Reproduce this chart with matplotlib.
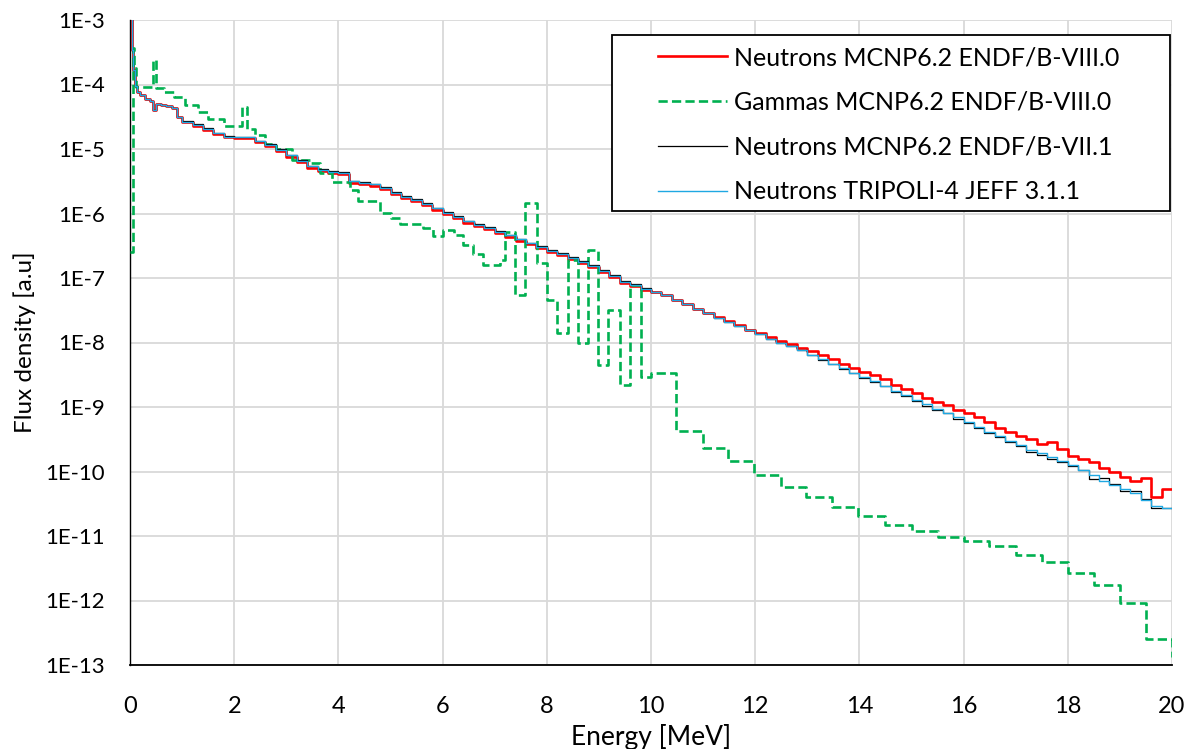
import numpy as np
import matplotlib
matplotlib.use("Agg")
import matplotlib.pyplot as plt
from matplotlib.patches import Rectangle
from matplotlib.ticker import NullLocator

plt.rcParams["font.family"] = ["Lato", "DejaVu Sans"]

# ---------------------------------------------------------------------------
# Data (flux density per energy bin, stored as log10 values)
# ---------------------------------------------------------------------------
# neutron bin edges [MeV]: fine bins below 1 MeV, then 0.2 MeV bins
N_EDGES_LOW = [0.0, 0.03, 0.06, 0.10, 0.13, 0.19, 0.28, 0.38, 0.45, 0.50,
               0.60, 0.70, 0.80, 0.90, 1.00]
N_EDGES_HIGH = np.round(np.arange(1.2, 20.001, 0.2), 2)

N_LOW = [-2.90, -3.47, -3.78, -4.03, -4.11, -4.16, -4.22, -4.25, -4.40,
         -4.31, -4.32, -4.34, -4.36, -4.50]

# MCNP6.2 ENDF/B-VIII.0 neutrons
N_VIII = N_LOW + [
    -4.58, -4.64, -4.70, -4.76, -4.82, -4.83, -4.83, -4.89, -4.96, -5.03,
    -5.12, -5.20, -5.29, -5.34, -5.37, -5.39, -5.52, -5.54, -5.57, -5.62,
    -5.70, -5.76, -5.81, -5.87, -5.94, -6.01, -6.07, -6.14, -6.20, -6.24,
    -6.30, -6.36, -6.42, -6.48, -6.54, -6.60, -6.65, -6.71, -6.77, -6.83,
    -6.90, -6.98, -7.07, -7.12, -7.18, -7.22, -7.27, -7.34, -7.41, -7.48,
    -7.54, -7.61, -7.67, -7.73, -7.80,
    -7.86, -7.92, -7.98, -8.03, -8.08, -8.13, -8.19, -8.26, -8.33, -8.40,
    -8.46, -8.51, -8.57, -8.66, -8.72, -8.78, -8.86, -8.92, -8.97, -9.05,
    -9.10, -9.16, -9.24, -9.32, -9.38, -9.45, -9.50, -9.58, -9.55, -9.65,
    -9.76, -9.80, -9.85, -9.95, -10.00, -10.08, -10.14, -10.10, -10.40, -10.27,
]

# MCNP6.2 ENDF/B-VII.1 neutrons
N_VII = N_LOW + [
    -4.57, -4.62, -4.68, -4.75, -4.80, -4.82, -4.81, -4.87, -4.93, -5.00,
    -5.09, -5.17, -5.26, -5.31, -5.34, -5.36, -5.49, -5.51, -5.54, -5.59,
    -5.67, -5.73, -5.78, -5.84, -5.91, -5.98, -6.04, -6.11, -6.17, -6.21,
    -6.27, -6.33, -6.39, -6.45, -6.51, -6.57, -6.62, -6.68, -6.74, -6.80,
    -6.88, -6.96, -7.05, -7.10, -7.16, -7.21, -7.27, -7.34, -7.41, -7.48,
    -7.55, -7.62, -7.68, -7.74, -7.81,
    -7.87, -7.94, -8.00, -8.06, -8.12, -8.20, -8.27, -8.34, -8.41, -8.48,
    -8.55, -8.61, -8.68, -8.76, -8.83, -8.90, -8.98, -9.05, -9.10, -9.18,
    -9.25, -9.33, -9.40, -9.47, -9.55, -9.61, -9.70, -9.74, -9.80, -9.86,
    -9.92, -9.98, -10.12, -10.10, -10.20, -10.30, -10.31, -10.42, -10.56, -10.56,
]

# TRIPOLI-4 JEFF 3.1.1 neutrons
N_JEFF = N_LOW + [
    -4.58, -4.63, -4.69, -4.75, -4.81, -4.82, -4.82, -4.88, -4.94, -5.01,
    -5.10, -5.18, -5.27, -5.32, -5.35, -5.37, -5.50, -5.52, -5.55, -5.60,
    -5.68, -5.74, -5.79, -5.85, -5.92, -5.99, -6.05, -6.12, -6.18, -6.22,
    -6.28, -6.34, -6.40, -6.46, -6.52, -6.58, -6.63, -6.69, -6.75, -6.81,
    -6.89, -6.97, -7.06, -7.11, -7.17, -7.21, -7.27, -7.34, -7.41, -7.48,
    -7.55, -7.62, -7.68, -7.74, -7.81,
    -7.87, -7.94, -8.00, -8.06, -8.12, -8.19, -8.26, -8.33, -8.40, -8.47,
    -8.54, -8.60, -8.67, -8.75, -8.82, -8.89, -8.96, -9.03, -9.09, -9.16,
    -9.23, -9.31, -9.38, -9.45, -9.53, -9.59, -9.66, -9.72, -9.78, -9.84,
    -9.90, -9.97, -10.05, -10.15, -10.21, -10.27, -10.33, -10.44, -10.53, -10.56,
]

# MCNP6.2 ENDF/B-VIII.0 gammas (irregular bins)
G_EDGES = [0.0, 0.05, 0.08, 0.12, 0.45, 0.50, 0.65, 0.85, 1.05, 1.30, 1.50,
           1.80, 2.15, 2.25, 2.40, 2.60, 2.80, 3.10, 3.45, 3.65, 3.87, 4.22,
           4.38, 4.80, 5.00, 5.18, 5.63, 5.82, 6.01, 6.21, 6.40, 6.59, 6.78,
           7.10, 7.20, 7.39, 7.58, 7.81, 8.00, 8.20, 8.41, 8.60, 8.80, 8.99,
           9.18, 9.40, 9.60, 9.80, 10.00, 10.48, 10.99, 11.47, 11.98, 12.50,
           12.97, 13.48, 13.98, 14.50, 15.00, 15.50, 16.00, 16.48, 17.00,
           17.50, 18.00, 18.50, 19.00, 19.50, 20.00]
G_VIII = [-6.60, -3.44, -3.75, -4.04, -3.62, -4.06, -4.11, -4.19, -4.32,
          -4.43, -4.53, -4.64, -4.35, -4.69, -4.79, -4.92, -5.00, -5.17,
          -5.22, -5.37, -5.51, -5.64, -5.81, -5.99, -6.07, -6.16, -6.23,
          -6.35, -6.26, -6.33, -6.49, -6.63, -6.80, -6.72, -6.28, -7.26,
          -5.84, -6.77, -7.34, -7.85, -6.72, -8.01, -6.57, -8.35, -7.50,
          -8.66, -7.11, -8.53, -8.47, -9.37, -9.64, -9.84, -10.05, -10.24,
          -10.40, -10.55, -10.69, -10.83, -10.93, -11.01, -11.08, -11.16,
          -11.29, -11.40, -11.57, -11.76, -12.04, -12.59]
G_TAIL = -12.87   # last point at 20 MeV

LABELS = ["Neutrons MCNP6.2 ENDF/B-VIII.0", "Gammas MCNP6.2 ENDF/B-VIII.0",
          "Neutrons MCNP6.2 ENDF/B-VII.1", "Neutrons TRIPOLI-4 JEFF 3.1.1"]


def step_xy(edges, logs):
    """Histogram outline from bin edges and log10 bin values."""
    x = np.repeat(np.asarray(edges, float), 2)[1:-1]
    y = np.repeat(10.0 ** np.asarray(logs, float), 2)
    return x, y


n_edges = np.concatenate([N_EDGES_LOW, N_EDGES_HIGH])

W, H = 1194, 749
fig = plt.figure(figsize=(W / 100, H / 100), dpi=100)
# plot area in pixels: x 130..1172, y 20..665
ax = fig.add_axes([130 / W, 1 - 665 / H, 1042 / W, 645 / H])

x, y = step_xy(n_edges, N_VIII)
ax.plot(x, y, color="#FF0000", lw=1.9, label=LABELS[0], zorder=3)

x, y = step_xy(G_EDGES, G_VIII)
x = np.append(x, G_EDGES[-1])
y = np.append(y, 10.0 ** G_TAIL)
ax.plot(x, y, color="#00B050", lw=1.9, ls=(0, (3.5, 1.6)),
        dash_capstyle="butt", label=LABELS[1], zorder=4)

x, y = step_xy(n_edges, N_VII)
ax.plot(x, y, color="#000000", lw=0.9, label=LABELS[2], zorder=5)

x, y = step_xy(n_edges, N_JEFF)
ax.plot(x, y, color="#1FA8E2", lw=1.0, label=LABELS[3], zorder=6)

# axes
ax.set_yscale("log")
ax.set_ylim(1e-13, 1e-3)
ax.set_xlim(0, 20)
decades = np.arange(-13, -2)
ax.set_yticks(10.0 ** decades)
ax.set_yticklabels([f"1E{d}" for d in decades])
ax.yaxis.set_minor_locator(NullLocator())
ax.set_xticks(np.arange(0, 21, 2))
ax.tick_params(axis="y", length=0, labelsize=16, pad=18)
ax.tick_params(axis="x", length=0, labelsize=17, pad=22)
ax.grid(True, color="#D9D9D9", lw=1.3)
ax.set_axisbelow(True)
for s in ("top", "right"):
    ax.spines[s].set_visible(False)
ax.spines["bottom"].set_color("black")
ax.spines["bottom"].set_linewidth(1.3)
ax.spines["left"].set_color("black")
ax.spines["left"].set_linewidth(1.0)

ax.set_xlabel("Energy [MeV]", fontsize=19, va="baseline")
ax.xaxis.set_label_coords(0.5, (665 - 745) / 645)
ax.set_ylabel("Flux density [a.u]", fontsize=17.5, va="center")
ax.yaxis.set_label_coords((25 - 130) / 1042, 0.5)

# legend frame drawn by hand to match the wide left padding
ax.add_patch(Rectangle(((612 - 130) / 1042, (665 - 211) / 645),
                       (1170 - 612) / 1042, (211 - 35) / 645,
                       transform=ax.transAxes, facecolor="white",
                       edgecolor="black", lw=1.3, zorder=9))
leg = ax.legend(loc="upper left", bbox_to_anchor=((658 - 130) / 1042, (665 - 46) / 645),
                fontsize=18, frameon=False, handlelength=2.76,
                handletextpad=0.3, labelspacing=0.87, borderpad=0,
                borderaxespad=0)
leg.set_zorder(10)

fig.savefig("out.png", dpi=100)
